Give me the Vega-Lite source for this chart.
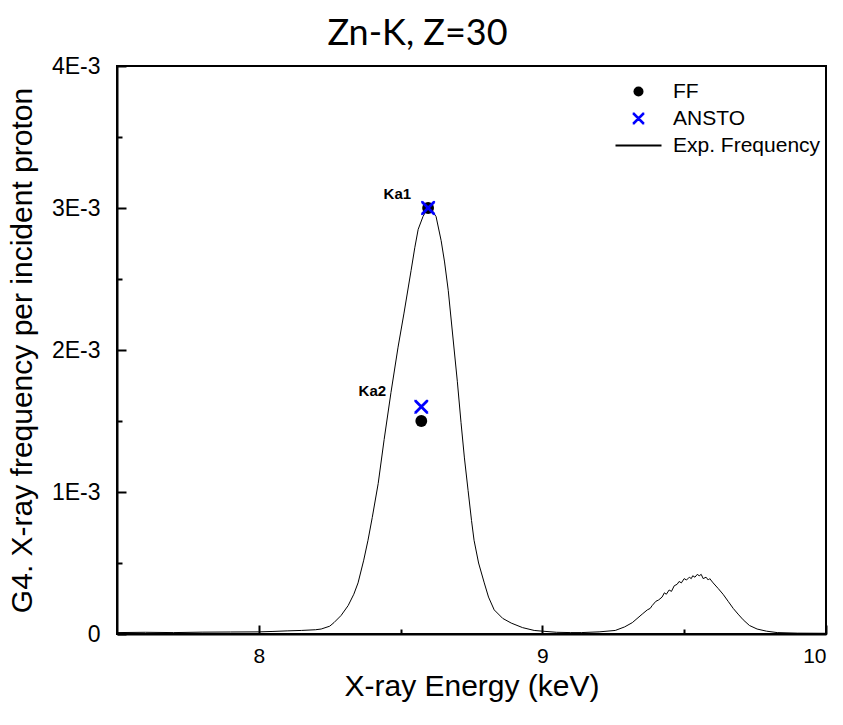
{
  "$schema": "https://vega.github.io/schema/vega-lite/v6.json",
  "width": 709,
  "height": 568,
  "autosize": "none",
  "padding": {"left": 117, "top": 66, "right": 17, "bottom": 91},
  "background": "white",
  "config": {
    "view": {"stroke": "black", "strokeWidth": 2},
    "font": "Liberation Sans"
  },
  "title": {
    "text": "Zn-K, Z=30",
    "font": "Lato",
    "fontSize": 36,
    "fontWeight": "normal",
    "color": "black",
    "frame": "bounds",
    "anchor": "middle",
    "offset": 2
  },
  "datasets": {
    "curve": [
      {"e": 7.50, "v": 0.000010}, {"e": 7.60, "v": 0.000012}, {"e": 7.70, "v": 0.000010},
      {"e": 7.80, "v": 0.000013}, {"e": 7.90, "v": 0.000014}, {"e": 8.00, "v": 0.000015},
      {"e": 8.05, "v": 0.000018}, {"e": 8.10, "v": 0.000022}, {"e": 8.15, "v": 0.000025},
      {"e": 8.20, "v": 0.000030}, {"e": 8.22, "v": 0.000035}, {"e": 8.25, "v": 0.000055},
      {"e": 8.265, "v": 0.00008}, {"e": 8.29, "v": 0.00013}, {"e": 8.315, "v": 0.00020},
      {"e": 8.335, "v": 0.00028}, {"e": 8.35, "v": 0.00036}, {"e": 8.37, "v": 0.00052},
      {"e": 8.385, "v": 0.00066}, {"e": 8.40, "v": 0.00082}, {"e": 8.421, "v": 0.00106},
      {"e": 8.442, "v": 0.00137}, {"e": 8.466, "v": 0.00170}, {"e": 8.491, "v": 0.00202},
      {"e": 8.512, "v": 0.00226}, {"e": 8.537, "v": 0.00256}, {"e": 8.550, "v": 0.00272},
      {"e": 8.562, "v": 0.00285}, {"e": 8.579, "v": 0.00294}, {"e": 8.590, "v": 0.00298},
      {"e": 8.597, "v": 0.00301}, {"e": 8.605, "v": 0.00300}, {"e": 8.615, "v": 0.00297},
      {"e": 8.625, "v": 0.00294}, {"e": 8.643, "v": 0.00277}, {"e": 8.655, "v": 0.00262},
      {"e": 8.668, "v": 0.00242}, {"e": 8.689, "v": 0.00200}, {"e": 8.700, "v": 0.00178},
      {"e": 8.713, "v": 0.00149}, {"e": 8.725, "v": 0.00124}, {"e": 8.738, "v": 0.00101},
      {"e": 8.750, "v": 0.00080}, {"e": 8.759, "v": 0.00066}, {"e": 8.775, "v": 0.00050},
      {"e": 8.795, "v": 0.00036}, {"e": 8.81, "v": 0.00026}, {"e": 8.830, "v": 0.00017},
      {"e": 8.86, "v": 0.00011}, {"e": 8.890, "v": 0.000077}, {"e": 8.93, "v": 0.000045},
      {"e": 8.971, "v": 0.000025}, {"e": 9.00, "v": 0.000020}, {"e": 9.05, "v": 0.000012},
      {"e": 9.10, "v": 0.000010}, {"e": 9.137, "v": 0.000010}, {"e": 9.20, "v": 0.000015},
      {"e": 9.257, "v": 0.000025}, {"e": 9.29, "v": 0.00005}, {"e": 9.317, "v": 0.00008},
      {"e": 9.352, "v": 0.00014}, {"e": 9.37, "v": 0.00017}, {"e": 9.38, "v": 0.00018},
      {"e": 9.387, "v": 0.00020}, {"e": 9.40, "v": 0.00023}, {"e": 9.41, "v": 0.00024},
      {"e": 9.422, "v": 0.00026}, {"e": 9.43, "v": 0.00029}, {"e": 9.437, "v": 0.00028},
      {"e": 9.447, "v": 0.00031}, {"e": 9.455, "v": 0.00030}, {"e": 9.465, "v": 0.00034},
      {"e": 9.475, "v": 0.00035}, {"e": 9.482, "v": 0.00037}, {"e": 9.49, "v": 0.00036},
      {"e": 9.50, "v": 0.00039}, {"e": 9.508, "v": 0.00038}, {"e": 9.518, "v": 0.00040},
      {"e": 9.525, "v": 0.00039}, {"e": 9.53, "v": 0.00041}, {"e": 9.538, "v": 0.00040},
      {"e": 9.546, "v": 0.00042}, {"e": 9.553, "v": 0.00041}, {"e": 9.56, "v": 0.00042},
      {"e": 9.567, "v": 0.00039}, {"e": 9.577, "v": 0.00040}, {"e": 9.585, "v": 0.00038},
      {"e": 9.59, "v": 0.00039}, {"e": 9.602, "v": 0.00036}, {"e": 9.62, "v": 0.00032},
      {"e": 9.637, "v": 0.00028}, {"e": 9.655, "v": 0.00023}, {"e": 9.673, "v": 0.00018},
      {"e": 9.69, "v": 0.00014}, {"e": 9.708, "v": 0.00010}, {"e": 9.73, "v": 0.00006},
      {"e": 9.757, "v": 0.000035}, {"e": 9.79, "v": 0.00002}, {"e": 9.828, "v": 0.00001},
      {"e": 9.90, "v": 0.000006}, {"e": 10.0, "v": 0.000005}
    ],
    "points": [
      {"series": "FF", "line": "Ka1", "e": 8.597, "v": 0.0030},
      {"series": "FF", "line": "Ka2", "e": 8.573, "v": 0.0015},
      {"series": "ANSTO", "line": "Ka1", "e": 8.597, "v": 0.0030},
      {"series": "ANSTO", "line": "Ka2", "e": 8.573, "v": 0.0016}
    ],
    "labels": [
      {"label": "Ka1", "e": 8.537, "v": 0.00310},
      {"label": "Ka2", "e": 8.449, "v": 0.00171}
    ]
  },
  "layer": [
    {
      "data": {"name": "curve"},
      "mark": {"type": "line", "color": "black", "strokeWidth": 1, "interpolate": "linear"},
      "encoding": {
        "x": {
          "field": "e", "type": "quantitative",
          "scale": {"domain": [7.5, 10], "nice": false, "zero": false},
          "axis": {
            "title": "X-ray Energy (keV)",
            "titleFont": "Liberation Sans", "titleFontSize": 30, "titleFontWeight": "normal", "titleColor": "black",
            "titleY": 37,
            "titleBaseline": "top",
            "values": [8, 8.5, 9, 9.5, 10],
            "labelExpr": "datum.value % 1 == 0 ? format(datum.value, 'd') : ''",
            "labelFont": "Liberation Sans", "labelFontSize": 21, "labelColor": "black",
            "labelPadding": 20,
            "grid": false,
            "domainColor": "black", "domainWidth": 2,
            "tickColor": "black", "tickWidth": 2,
            "tickSize": {"condition": {"test": "datum.value % 1 == 0", "value": -9}, "value": -5}
          }
        },
        "y": {
          "field": "v", "type": "quantitative",
          "scale": {"domain": [0, 0.004], "nice": false},
          "axis": {
            "title": "G4. X-ray frequency per incident proton",
            "titleFont": "Liberation Sans", "titleFontSize": 30, "titleFontWeight": "normal", "titleColor": "black",
            "titleX": -80,
            "titleY": 284,
            "titleAngle": -90,
            "titleAlign": "center",
            "titleBaseline": "bottom",
            "values": [0, 0.0005, 0.001, 0.0015, 0.002, 0.0025, 0.003, 0.0035, 0.004],
            "labelExpr": "round(datum.value * 2000) % 2 == 1 ? '' : (datum.value == 0 ? '0' : round(datum.value * 1000) + 'E-3')",
            "labelFont": "Liberation Sans", "labelFontSize": 23, "labelColor": "black",
            "labelPadding": 26,
            "grid": false,
            "domainColor": "black", "domainWidth": 2,
            "tickColor": "black", "tickWidth": 2,
            "tickSize": {"condition": {"test": "round(datum.value * 2000) % 2 == 0", "value": -9}, "value": -5}
          }
        }
      }
    },
    {
      "data": {"name": "points"},
      "mark": {"type": "point", "filled": false, "opacity": 1, "size": 140},
      "encoding": {
        "x": {"field": "e", "type": "quantitative"},
        "y": {"field": "v", "type": "quantitative"},
        "color": {
          "field": "series", "type": "nominal",
          "scale": {"domain": ["FF", "ANSTO", "Exp. Frequency"], "range": ["black", "#0000ff", "black"]},
          "legend": {
            "title": null,
            "orient": "none",
            "legendX": 511,
            "legendY": 15,
            "labelFont": "Liberation Sans",
            "labelFontSize": 21,
            "labelColor": "black",
            "labelOffset": 24,
            "rowPadding": 5,
            "symbolSize": 100,
            "symbolStrokeWidth": 1,
            "encode": {
              "symbols": {
                "update": {
                  "fill": {"signal": "datum.value === 'FF' ? 'black' : 'transparent'"},
                  "stroke": {"signal": "datum.value === 'ANSTO' ? '#0000ff' : 'black'"},
                  "opacity": {"value": 1}
                }
              }
            }
          }
        },
        "shape": {
          "field": "series", "type": "nominal",
          "scale": {
            "domain": ["FF", "ANSTO", "Exp. Frequency"],
            "range": [
              "circle",
              "M-1.15,-1.15L1.15,1.15M1.15,-1.15L-1.15,1.15M-0.95,-1.15L1.15,0.95M-1.15,-0.95L0.95,1.15M0.95,-1.15L-1.15,0.95M1.15,-0.95L-0.95,1.15",
              "M-4.6,0L4.6,0"
            ]
          }
        },
        "fill": {
          "field": "series", "type": "nominal",
          "scale": {"domain": ["FF", "ANSTO", "Exp. Frequency"], "range": ["black", "transparent", "transparent"]},
          "legend": null
        },
        "strokeWidth": {
          "field": "series", "type": "nominal",
          "scale": {"domain": ["FF", "ANSTO", "Exp. Frequency"], "range": [0, 2.2, 1]},
          "legend": null
        }
      }
    },
    {
      "data": {"name": "labels"},
      "mark": {"type": "text", "align": "right", "baseline": "middle", "font": "Liberation Sans", "fontSize": 15, "fontWeight": "bold", "color": "black"},
      "encoding": {
        "x": {"field": "e", "type": "quantitative"},
        "y": {"field": "v", "type": "quantitative"},
        "text": {"field": "label"}
      }
    }
  ]
}
